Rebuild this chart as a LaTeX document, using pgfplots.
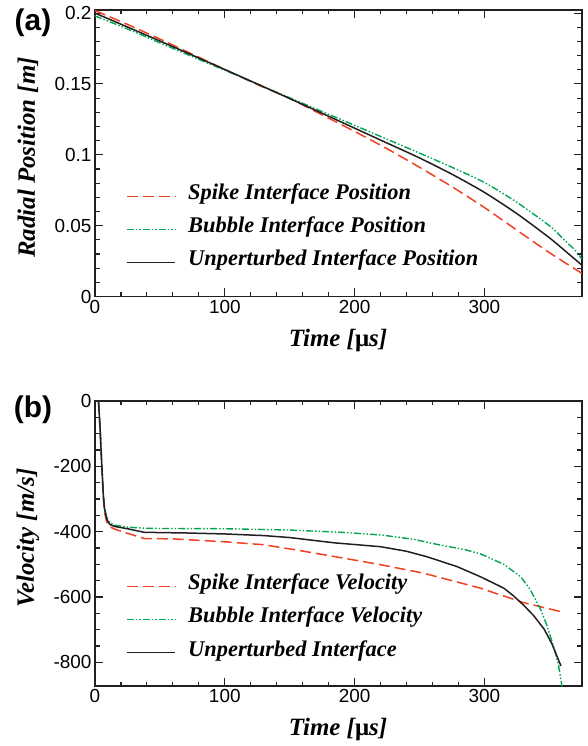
\documentclass[border=0pt]{standalone}
\usepackage{fontspec}
\setmainfont{Liberation Serif}
\setsansfont{Liberation Sans}
\usepackage{pgfplots}
\usepackage{pgfplotstable}
\pgfplotsset{compat=1.18}

\definecolor{spikered}{RGB}{239,65,35}
\definecolor{bubblegreen}{RGB}{0,166,81}
\definecolor{frame}{RGB}{35,31,32}

% Radial position of the interfaces [m]
\pgfplotstableread{
t r
0 0.2018
25 0.1920
50 0.1817
75 0.1710
100 0.1602
125 0.1496
150 0.1398
175 0.1282
200 0.1165
225 0.1043
250 0.0912
275 0.0775
300 0.0628
325 0.0468
350 0.0310
365 0.0222
375 0.0164
}\spikepos
\pgfplotstableread{
t r
0 0.1980
25 0.1888
50 0.1790
75 0.1693
100 0.1597
125 0.1500
150 0.1402
175 0.1305
200 0.1208
225 0.1110
250 0.1012
275 0.0912
300 0.0805
325 0.0665
350 0.0500
361 0.0405
370 0.0325
375 0.0265
}\bubblepos
\pgfplotstableread{
t r
0 0.2000
25 0.1902
50 0.1803
75 0.1703
100 0.1602
125 0.1500
150 0.1397
175 0.1293
200 0.1188
225 0.1083
250 0.0978
275 0.0863
300 0.0735
325 0.0585
350 0.0415
365 0.0300
375 0.0222
}\basepos

% Interface velocities [m/s]
\pgfplotstableread{
t v
2.7 0
3.9 -85
5.1 -190
6.4 -295
7.3 -340
9 -370
11.5 -385
15 -392
25 -405
38 -421
60 -422
100 -431
130 -440
158 -458
200 -487
220 -501
253 -527
297 -573
330 -617
359 -645
}\spikevel
\pgfplotstableread{
t v
2.7 0
3.9 -80
5.1 -180
6.4 -280
7.3 -322
9 -355
11.5 -373
15 -380
25 -386
40 -390
100 -391
150 -395
190 -402
220 -410
245 -423
266 -441
285 -455
297 -468
315 -500
328 -538
335 -575
343 -635
348 -685
353.4 -752
357 -805
359.8 -874
}\bubblevel
\pgfplotstableread{
t v
2.7 0
3.9 -83
5.1 -186
6.4 -288
7.3 -330
9 -362
11.5 -378
15 -384
25 -391
38 -402
70 -404
100 -407
130 -412
150 -418
184 -434
220 -446
240 -460
256 -477
279 -507
297 -538
315 -573
322 -595
330 -624
338 -657
346 -698
352 -743
359 -811
}\basevel

\tikzset{
  spikeln/.style={draw=spikered, line width=1.5bp, dash pattern=on 11bp off 5bp},
  bubbleln/.style={draw=bubblegreen, line width=1.4bp,
    dash pattern=on 7bp off 2bp on 1.5bp off 2bp on 1.5bp off 2bp},
  baseln/.style={draw=frame, line width=1.5bp, solid},
  keytext/.style={anchor=base west, inner sep=0pt,
    font=\bfseries\itshape\fontsize{22.5}{22.5}\selectfont},
}

% key sample line at height #2 (axis fraction) in style #1
\newcommand\keyline[2]{%
  \draw[#1] (axis description cs:0.0657,#2) -- (axis description cs:0.1644,#2);}
% key text #2 beside the sample line at height #1
\newcommand\keytext[2]{%
  \node[keytext] at (axis description cs:0.1911,#1) [yshift=-3.5bp] {#2};}

\pgfplotsset{
  panel/.style={
    scale only axis, width=486.7bp,
    xmin=0, xmax=375,
    xtick={0,100,200,300}, xticklabels={0,100,200,300},
    minor x tick num=4,
    axis line style={frame, line width=1.6bp},
    every tick/.style={frame, line width=1.1bp},
    major tick length=8bp, minor tick length=4.5bp,
    tick align=inside,
    /pgf/number format/assume math mode=true,
    tick label style={font=\sffamily\fontsize{19}{19}\selectfont},
    label style={font=\bfseries\itshape\fontsize{25}{25}\selectfont},
    xlabel={Time [{\upshape μ}s]},
    xlabel style={at={(axis description cs:0.4993,-0.152)}, anchor=center},
    ylabel style={at={(axis description cs:-0.1377,0.485)}, anchor=center},
  },
}

\begin{document}
\begin{tikzpicture}[x=1bp,y=1bp]
\path[use as bounding box] (0,0) rectangle (588,746);

\begin{axis}[panel, at={(95bp,449.5bp)}, anchor=south west,
  height=286.5bp, ymin=0, ymax=0.2022,
  ytick={0,0.05,0.1,0.15,0.2}, yticklabels={0,0.05,0.1,0.15,0.2},
  minor y tick num=4,
  ylabel={Radial Position [m]}]
\addplot[spikeln, smooth, tension=0.4] table[x=t,y=r] {\spikepos};
\addplot[bubbleln, smooth, tension=0.4] table[x=t,y=r] {\bubblepos};
\addplot[baseln, smooth, tension=0.4] table[x=t,y=r] {\basepos};
\keyline{spikeln}{0.34904}
\keyline{bubbleln}{0.23386}
\keyline{baseln}{0.11867}
\keytext{0.34904}{Spike Interface Position}
\keytext{0.23386}{Bubble Interface Position}
\keytext{0.11867}{Unperturbed Interface Position}
\end{axis}

\begin{axis}[panel, at={(95bp,60bp)}, anchor=south west,
  height=285bp, ymin=-872.4, ymax=0,
  ytick={-800,-600,-400,-200,0}, yticklabels={-800,-600,-400,-200,0},
  minor y tick num=3,
  ylabel={Velocity [m/s]},
  ylabel style={at={(axis description cs:-0.1377,0.519)}},
  xlabel style={at={(axis description cs:0.4993,-0.154)}}]
\addplot[spikeln] table[x=t,y=v] {\spikevel};
\addplot[bubbleln] table[x=t,y=v] {\bubblevel};
\addplot[baseln] table[x=t,y=v] {\basevel};
\keyline{spikeln}{0.34912}
\keyline{bubbleln}{0.23333}
\keyline{baseln}{0.11754}
\keytext{0.34912}{Spike Interface Velocity}
\keytext{0.23333}{Bubble Interface Velocity}
\keytext{0.11754}{Unperturbed Interface}
\end{axis}

\node[font=\sffamily\bfseries\fontsize{30}{30}\selectfont] at (33,723) {(a)};
\node[font=\sffamily\bfseries\fontsize{30}{30}\selectfont] at (33,336) {(b)};
\end{tikzpicture}
\end{document}
